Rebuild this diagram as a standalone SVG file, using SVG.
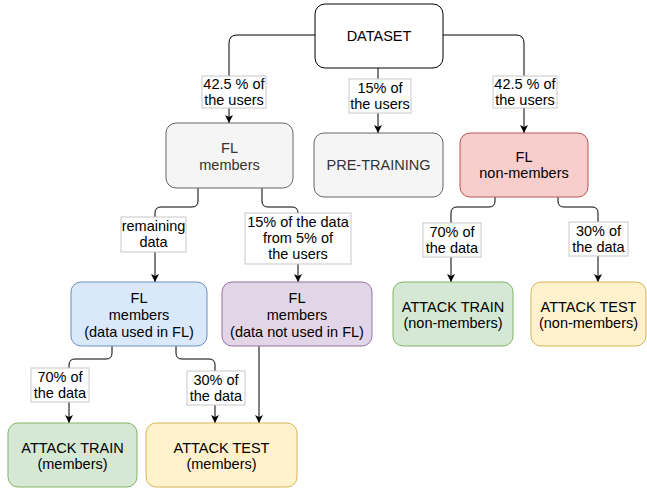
<svg xmlns="http://www.w3.org/2000/svg" width="647" height="489" viewBox="0 0 647 489">
<defs>
<marker id="arr" markerWidth="10" markerHeight="10" refX="8" refY="4" orient="auto" markerUnits="userSpaceOnUse">
<path d="M0,0 L8,4 L0,8 L2,4 z" fill="#000"/>
</marker>
<style>
text{font-family:"Liberation Sans",Helvetica,Arial,sans-serif;font-size:14.5px;text-anchor:middle;fill:#000;stroke:none}
rect.gray{fill:#f5f5f5;stroke:#666}
text.g{fill:#333}
rect.white{fill:#fff;stroke:#000}
rect.red{fill:#f8cecc;stroke:#b85450}
rect.blue{fill:#dae8fc;stroke:#6c8ebf}
rect.purple{fill:#e1d5e7;stroke:#9673a6}
rect.green{fill:#d5e8d4;stroke:#82b366}
rect.yellow{fill:#fff2cc;stroke:#d6b656}
.c{fill:none;stroke:#000;stroke-width:1;marker-end:url(#arr)}
.lb{fill:#fff;stroke:#c8c8c8;stroke-width:1}
</style>
</defs>
<rect width="647" height="489" fill="#fff"/>
<g id="connectors">
<path class="c" d="M315,35 H237 Q229,35 229,43 V123"/>
<path class="c" d="M378,68 V133"/>
<path class="c" d="M443,35 H516 Q524,35 524,43 V133"/>
<path class="c" d="M198,188 V201 Q198,207 192,207 H161 Q155,207 155,213 V282"/>
<path class="c" d="M262,188 V201 Q262,207 268,207 H292 Q298,207 298,213 V282"/>
<path class="c" d="M112,346 V353 Q112,359 106,359 H75 Q69,359 69,365 V423"/>
<path class="c" d="M176,346 V353 Q176,359 182,359 H209 Q215,359 215,365 V423"/>
<path class="c" d="M259,346 V423"/>
<path class="c" d="M495,197 V201 Q495,207 489,207 H457 Q451,207 451,213 V282"/>
<path class="c" d="M558,197 V201 Q558,207 564,207 H592 Q598,207 598,213 V282"/>
</g>
<g id="labels">
<g id="lbl1"><rect class="lb" x="202" y="76" width="64" height="32"/><text x="234" y="89">42.5 % of</text><text x="234" y="105">the users</text></g>
<g id="lbl2"><rect class="lb" x="349" y="79" width="62" height="34"/><text x="380" y="93">15% of</text><text x="380" y="109">the users</text></g>
<g id="lbl3"><rect class="lb" x="493" y="76" width="64" height="32"/><text x="525" y="89">42.5 % of</text><text x="525" y="105">the users</text></g>
<g id="lbl4"><rect class="lb" x="121" y="217" width="65" height="35"/><text x="153.5" y="231">remaining</text><text x="153.5" y="247">data</text></g>
<g id="lbl5"><rect class="lb" x="245" y="213" width="106" height="51"/><text x="298" y="227">15% of the data</text><text x="298" y="243">from 5% of</text><text x="298" y="259">the users</text></g>
<g id="lbl6"><rect class="lb" x="31" y="368" width="58" height="34"/><text x="60" y="382">70% of</text><text x="60" y="398">the data</text></g>
<g id="lbl7"><rect class="lb" x="187" y="371" width="58" height="34"/><text x="216" y="385">30% of</text><text x="216" y="401">the data</text></g>
<g id="lbl8"><rect class="lb" x="423" y="223" width="58" height="34"/><text x="452" y="237">70% of</text><text x="452" y="253">the data</text></g>
<g id="lbl9"><rect class="lb" x="569" y="222" width="59" height="34"/><text x="598.5" y="236">30% of</text><text x="598.5" y="252">the data</text></g>
</g>
<g id="dataset"><rect class="white" x="315" y="4" width="128" height="64" rx="10"/><text x="379" y="41">DATASET</text></g>
<g id="fl-members"><rect class="gray" x="166" y="123" width="127" height="65" rx="10"/><text class="g" x="229.5" y="153">FL</text><text class="g" x="229.5" y="170">members</text></g>
<g id="pre-training"><rect class="gray" x="314" y="133" width="129" height="64" rx="10"/><text class="g" x="378.5" y="170">PRE-TRAINING</text></g>
<g id="fl-non-members"><rect class="red" x="460" y="133" width="128" height="64" rx="10"/><text x="524" y="162">FL</text><text x="524" y="178">non-members</text></g>
<g id="fl-used"><rect class="blue" x="71" y="282" width="136" height="64" rx="10"/><text x="139" y="303">FL</text><text x="139" y="320">members</text><text x="139" y="337">(data used in FL)</text></g>
<g id="fl-not-used"><rect class="purple" x="222" y="282" width="150" height="64" rx="10"/><text x="297" y="303">FL</text><text x="297" y="320">members</text><text x="297" y="337">(data not used in FL)</text></g>
<g id="attack-train-nm"><rect class="green" x="393" y="282" width="120" height="64" rx="10"/><text x="453" y="312">ATTACK TRAIN</text><text x="453" y="328">(non-members)</text></g>
<g id="attack-test-nm"><rect class="yellow" x="531" y="282" width="115" height="64" rx="10"/><text x="588.5" y="312">ATTACK TEST</text><text x="588.5" y="328">(non-members)</text></g>
<g id="attack-train-m"><rect class="green" x="8" y="423" width="129" height="64" rx="10"/><text x="72.5" y="453">ATTACK TRAIN</text><text x="72.5" y="469">(members)</text></g>
<g id="attack-test-m"><rect class="yellow" x="146" y="423" width="151" height="64" rx="10"/><text x="221.5" y="453">ATTACK TEST</text><text x="221.5" y="469">(members)</text></g>
</svg>
